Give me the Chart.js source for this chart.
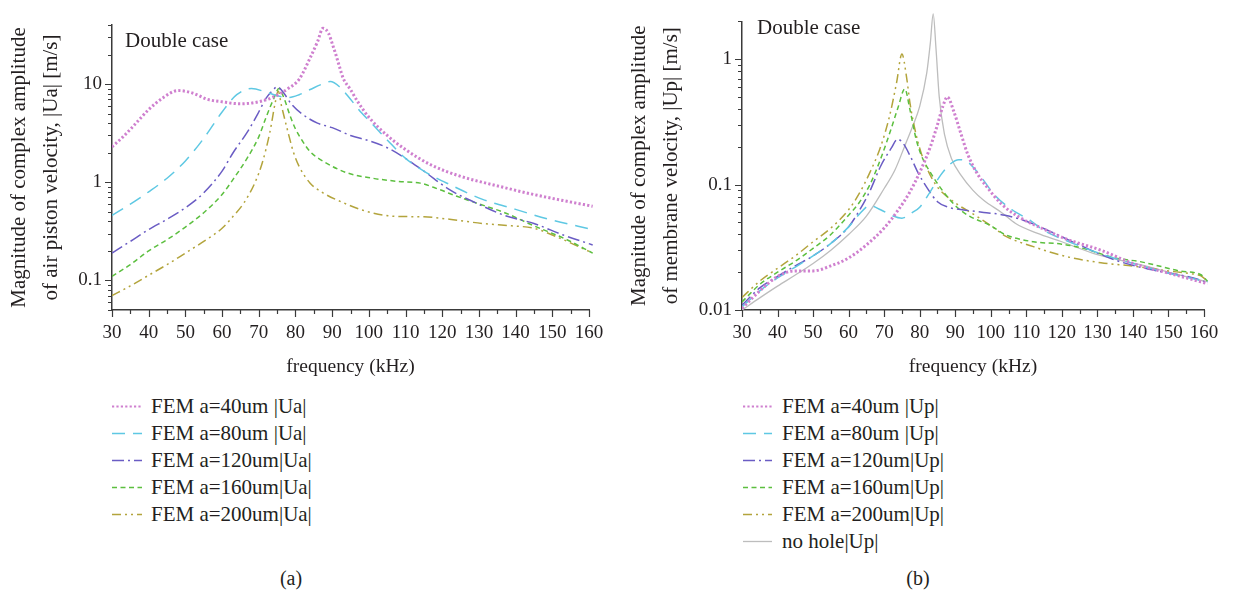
<!DOCTYPE html>
<html>
<head>
<meta charset="utf-8">
<title>Double case: |Ua| and |Up| against frequency</title>
<script src="https://cdn.jsdelivr.net/npm/chart.js@4.4.1/dist/chart.umd.min.js"></script>
<style>
  html, body { margin: 0; padding: 0; background: #fff; }
  body {
    width: 1234px; height: 595px; position: relative; overflow: hidden;
    font-family: "Liberation Serif", "Times New Roman", serif; color: #231f20;
  }
  .panel { position: absolute; top: 0; height: 390px; }
  #panelA { left: 0; width: 620px; }
  #panelB { left: 620px; width: 614px; }
  .note { position: absolute; font-size: 21px; line-height: 24px; white-space: nowrap; }
  .legend { position: absolute; top: 393px; font-size: 21px; }
  .legend-row { display: flex; align-items: center; height: 27px; white-space: nowrap; }
  .legend-row svg { flex: none; }
  .caption { position: absolute; top: 566px; width: 60px; text-align: center; font-size: 20px; line-height: 24px; }
</style>
</head>
<body>
  <div class="panel" id="panelA"><canvas id="chartUa"></canvas></div>
  <div class="panel" id="panelB"><canvas id="chartUp"></canvas></div>

  <div class="note" style="left:125px; top:28px;">Double case</div>
  <div class="note" style="left:757px; top:15px;">Double case</div>

  <div class="legend" id="legendUa" style="left:112px;"></div>
  <div class="legend" id="legendUp" style="left:743px;"></div>

  <div class="caption" style="left:261px;">(a)</div>
  <div class="caption" style="left:888px;">(b)</div>

<script>
'use strict';

// ---- (a) air piston velocity |Ua|, [frequency kHz, m/s] ----
const ua40 = [[30, 2.3], [33, 2.9], [36, 3.8], [40, 5.5], [44, 7.3], [48, 8.6], [52, 8.1], [56, 7.0],
  [60, 6.6], [65, 6.3], [70, 6.6], [74, 7.4], [78, 9.0], [81, 11.2], [84, 18.5], [86, 27], [87.5, 37],
  [89, 33], [90, 26], [91, 20], [92, 15], [93, 11.5], [95, 8.8], [97, 6.6], [100, 4.6], [105, 3.0],
  [110, 2.15], [117, 1.5], [125, 1.15], [135, 0.92], [145, 0.75], [154, 0.64], [161, 0.57]];
const ua80 = [[30, 0.46], [35, 0.6], [40, 0.8], [45, 1.1], [50, 1.65], [55, 2.8], [60, 5.2], [64, 7.8],
  [68, 9.0], [72, 8.3], [75, 7.6], [78, 7.3], [81, 7.8], [84, 8.8], [87, 9.9], [89.5, 10.6], [92, 9.4],
  [95, 7.0], [98, 5.1], [101, 3.9], [105, 2.7], [110, 1.75], [115, 1.3], [122, 0.95], [131, 0.67],
  [140, 0.53], [149, 0.42], [161, 0.33]];
const ua120 = [[30, 0.19], [35, 0.25], [40, 0.33], [45, 0.42], [50, 0.55], [55, 0.78], [60, 1.3],
  [63, 2.0], [67, 3.3], [70, 5.2], [72, 7.2], [74, 8.8], [75, 9.4], [76.5, 8.4], [79, 6.2], [82, 4.9],
  [86, 4.0], [90, 3.6], [95, 3.0], [100, 2.65], [105, 2.25], [110, 1.75], [115, 1.3], [122, 0.84],
  [129, 0.62], [137, 0.46], [145, 0.38], [153, 0.29], [161, 0.23]];
const ua160 = [[30, 0.11], [35, 0.145], [40, 0.2], [45, 0.26], [50, 0.35], [55, 0.49], [60, 0.75],
  [63, 1.07], [67, 1.8], [70, 2.9], [72, 4.6], [74, 7.0], [75.5, 9.0], [77, 7.0], [78.5, 4.8], [80, 3.5],
  [82, 2.6], [84, 2.05], [88, 1.6], [94, 1.25], [101, 1.1], [108, 1.02], [114, 0.98], [119, 0.85],
  [124, 0.72], [129, 0.62], [137, 0.49], [145, 0.36], [154, 0.26], [161, 0.19]];
const ua200 = [[30, 0.07], [35, 0.088], [40, 0.113], [45, 0.145], [50, 0.19], [55, 0.25], [60, 0.34],
  [63, 0.45], [66, 0.62], [69, 1.0], [71, 1.6], [73, 3.2], [74.5, 6.5], [75.3, 8.5], [76.2, 6.0],
  [77.5, 3.8], [79.5, 2.0], [81, 1.45], [84, 0.98], [87.5, 0.78], [93, 0.62], [99, 0.51], [107, 0.45],
  [115, 0.445], [122, 0.42], [131, 0.38], [139, 0.36], [145, 0.34], [152, 0.27], [161, 0.19]];

// ---- (b) membrane velocity |Up| ----
const up40 = [[30, 0.0103], [35, 0.0142], [40, 0.0185], [45, 0.0205], [50, 0.0205], [55, 0.0225],
  [60, 0.026], [65, 0.033], [70, 0.045], [74, 0.063], [77, 0.085], [80, 0.125], [83, 0.2], [85, 0.3],
  [86.5, 0.42], [87.8, 0.5], [89.5, 0.39], [91.5, 0.26], [93.5, 0.175], [96, 0.125], [99, 0.095],
  [103, 0.07], [108, 0.055], [115, 0.044], [121, 0.037], [131, 0.03], [140, 0.0235], [150, 0.0197],
  [161, 0.0162]];
const up80 = [[30, 0.0106], [35, 0.0142], [40, 0.018], [45, 0.022], [50, 0.027], [55, 0.034],
  [60, 0.046], [63, 0.058], [66, 0.068], [69, 0.063], [72, 0.057], [75, 0.054], [78, 0.06], [80, 0.066],
  [83, 0.088], [86, 0.12], [88.5, 0.145], [91, 0.158], [93, 0.155], [95, 0.138], [98, 0.108],
  [101, 0.083], [106, 0.063], [111, 0.052], [115, 0.043], [121, 0.036], [131, 0.028], [140, 0.0235],
  [150, 0.0197], [161, 0.0168]];
const up120 = [[30, 0.0109], [35, 0.015], [40, 0.0185], [45, 0.0225], [50, 0.027], [55, 0.034],
  [60, 0.046], [63, 0.062], [66, 0.089], [69, 0.14], [72, 0.195], [73.8, 0.23], [75.5, 0.21],
  [77.5, 0.165], [79.5, 0.125], [82, 0.095], [85, 0.073], [88, 0.066], [92, 0.063], [98, 0.06],
  [104, 0.057], [110, 0.051], [117, 0.042], [126, 0.032], [135, 0.025], [145, 0.021], [157, 0.018],
  [161, 0.0165]];
const up160 = [[30, 0.0116], [35, 0.016], [40, 0.02], [45, 0.0245], [50, 0.031], [55, 0.04],
  [60, 0.057], [63, 0.072], [66, 0.1], [69, 0.16], [72, 0.28], [74, 0.42], [75.8, 0.58], [77.3, 0.39],
  [79, 0.23], [80.5, 0.17], [83, 0.125], [86.5, 0.089], [90.5, 0.066], [94, 0.056], [100, 0.047],
  [104, 0.04], [112, 0.035], [120, 0.0335], [126, 0.031], [135, 0.026], [142, 0.0243], [148, 0.0222],
  [153, 0.0205], [159, 0.0192], [161, 0.017]];
const up200 = [[30, 0.0126], [35, 0.017], [40, 0.0215], [45, 0.027], [50, 0.035], [55, 0.045],
  [60, 0.063], [63, 0.085], [66, 0.125], [69, 0.2], [71.5, 0.35], [73.5, 0.65], [75, 1.1], [76.3, 0.72],
  [77.3, 0.44], [79, 0.25], [81, 0.16], [84.5, 0.1], [89, 0.075], [96, 0.056], [101, 0.045],
  [104, 0.039], [112, 0.032], [121, 0.0268], [131, 0.0238], [140, 0.0224], [150, 0.0205],
  [156, 0.0195], [159, 0.0188], [161, 0.017]];
const upNoHole = [[30, 0.01], [35, 0.0125], [40, 0.0155], [45, 0.019], [50, 0.0235], [55, 0.03],
  [60, 0.04], [65, 0.056], [70, 0.093], [73, 0.13], [76, 0.21], [78, 0.29], [80, 0.42], [82, 0.78],
  [83, 1.35], [83.8, 2.3], [84.6, 1.2], [85.5, 0.5], [87, 0.25], [89, 0.16], [91.5, 0.12], [95, 0.09],
  [98, 0.075], [103, 0.06], [107, 0.049], [113, 0.041], [120, 0.035], [130, 0.0276], [142, 0.023],
  [151, 0.0197], [161, 0.0168]];

const labelsUa = ['FEM a=40um |Ua|', 'FEM a=80um |Ua|', 'FEM a=120um|Ua|', 'FEM a=160um|Ua|', 'FEM a=200um|Ua|'];
const labelsUp = ['FEM a=40um |Up|', 'FEM a=80um |Up|', 'FEM a=120um|Up|', 'FEM a=160um|Up|', 'FEM a=200um|Up|', 'no hole|Up|'];
const titleUa = ['Magnitude of complex amplitude', 'of air piston velocity, |Ua| [m/s]'];
const titleUp = ['Magnitude of complex amplitude', 'of membrane velocity, |Up| [m/s]'];

const FONT = '"Liberation Serif", "Times New Roman", serif';
const INK = '#231f20';
const AXIS = '#3a3a3a';

// one style per series, same order for both panels
const lineStyles = [
  { color: '#cf80cf', width: 3, dash: [2.2, 2.2] },
  { color: '#5ec8e3', width: 1.5, dash: [13, 8] },
  { color: '#6a5cc4', width: 1.5, dash: [12, 4, 2, 4] },
  { color: '#5cbf3f', width: 1.5, dash: [5, 3.5] },
  { color: '#b3a43c', width: 1.5, dash: [9, 4, 2, 4, 2, 4] },
  { color: '#bdbdbd', width: 1.3, dash: [] }
];

const isDecade = (v) => {
  const e = Math.log10(v);
  return Math.abs(e - Math.round(e)) < 1e-6;
};

const isWholeMantissa = (v) => {
  const m = v / Math.pow(10, Math.floor(Math.log10(v) + 1e-9));
  return Math.abs(m - Math.round(m)) < 1e-6;
};

// short outward tick marks, longer on labelled values
const tickMarks = {
  id: 'tickMarks',
  afterDraw(chart) {
    const { ctx, chartArea, scales } = chart;
    ctx.save();
    ctx.strokeStyle = AXIS;
    ctx.lineWidth = 1.2;
    ctx.beginPath();
    scales.x.ticks.forEach((t) => {
      if (t.value % 5 !== 0) return;
      const px = Math.round(scales.x.getPixelForValue(t.value)) + 0.5;
      const len = t.value % 10 === 0 ? 7 : 4;
      ctx.moveTo(px, chartArea.bottom);
      ctx.lineTo(px, chartArea.bottom + len);
    });
    scales.y.ticks.forEach((t) => {
      if (!isWholeMantissa(t.value)) return;
      const py = Math.round(scales.y.getPixelForValue(t.value)) + 0.5;
      const len = isDecade(t.value) ? 7 : 4;
      ctx.moveTo(chartArea.left, py);
      ctx.lineTo(chartArea.left - len, py);
    });
    ctx.stroke();
    ctx.restore();
  }
};

class DoubleCaseFigure {
  constructor() {
    this.init();
  }

  init() {
    this.charts = [];
    this.initCharts();
    this.buildLegends();
  }

  makeDatasets(series, labels, peakClip) {
    return series.map((pts, i) => ({
      label: labels[i],
      data: pts.map(([x, y]) => ({ x, y })),
      borderColor: lineStyles[i].color,
      borderWidth: lineStyles[i].width,
      borderDash: lineStyles[i].dash,
      clip: { left: 0, top: i === 5 ? peakClip : 0, right: 6, bottom: 0 }
    }));
  }

  makeOptions(cfg) {
    return {
      responsive: true,
      maintainAspectRatio: false,
      animation: false,
      layout: { padding: { left: 0, top: cfg.top, right: cfg.right, bottom: 0 } },
      plugins: { legend: { display: false }, tooltip: { enabled: false } },
      elements: {
        point: { radius: 0 },
        line: { cubicInterpolationMode: 'monotone', fill: false }
      },
      scales: {
        x: {
          type: 'linear',
          min: 30,
          max: 160,
          border: { display: true, color: AXIS, width: 1.5 },
          grid: { display: true, drawOnChartArea: false, drawTicks: false },
          ticks: {
            stepSize: 5,
            autoSkip: false,
            maxRotation: 0,
            includeBounds: false,
            padding: 12,
            color: INK,
            font: { family: FONT, size: 19 },
            callback: (v) => (v % 10 === 0 ? String(v) : '')
          },
          title: {
            display: true,
            text: 'frequency (kHz)',
            color: INK,
            font: { family: FONT, size: 19.5 },
            padding: { top: 0, bottom: 11 }
          },
          afterFit: (s) => { s.height = 80; }
        },
        y: {
          type: 'logarithmic',
          min: cfg.yMin,
          max: cfg.yMax,
          border: { display: true, color: AXIS, width: 1.5 },
          grid: { display: true, drawOnChartArea: false, drawTicks: false },
          ticks: {
            autoSkip: false,
            padding: 10,
            color: INK,
            font: { family: FONT, size: 19 },
            callback: (v) => {
              if (!isDecade(v)) return '';
              const n = Math.round(Math.log10(v));
              return n >= 0 ? String(Math.pow(10, n)) : Math.pow(10, n).toFixed(-n);
            }
          },
          title: {
            display: true,
            text: cfg.yTitle,
            color: INK,
            font: { family: FONT, size: 21, lineHeight: 1.5 },
            padding: { top: 4, bottom: 0 }
          },
          afterFit: (s) => { s.width = cfg.yWidth; }
        }
      }
    };
  }

  initCharts() {
    const ctxA = document.getElementById('chartUa');
    if (ctxA) {
      this.charts.push(new Chart(ctxA, {
        type: 'line',
        data: { datasets: this.makeDatasets([ua40, ua80, ua120, ua160, ua200], labelsUa, 0) },
        options: this.makeOptions({ yMin: 0.05, yMax: 40, yTitle: titleUa, yWidth: 112, top: 25, right: 31 }),
        plugins: [tickMarks]
      }));
    }

    const ctxB = document.getElementById('chartUp');
    if (ctxB) {
      this.charts.push(new Chart(ctxB, {
        type: 'line',
        data: { datasets: this.makeDatasets([up40, up80, up120, up160, up200, upNoHole], labelsUp, 12) },
        options: this.makeOptions({ yMin: 0.01, yMax: 2, yTitle: titleUp, yWidth: 122, top: 12, right: 30 }),
        plugins: [tickMarks]
      }));
    }
  }

  buildLegends() {
    const targets = [['legendUa', 30, 9], ['legendUp', 29, 10]];
    this.charts.forEach((chart, k) => {
      const [id, lineLen, gap] = targets[k];
      const box = document.getElementById(id);
      chart.data.datasets.forEach((ds) => {
        const row = document.createElement('div');
        row.className = 'legend-row';
        const dash = (ds.borderDash || []).join(' ');
        row.innerHTML =
          '<svg width="' + lineLen + '" height="27"><line x1="0" y1="13.5" x2="' + lineLen +
          '" y2="13.5" stroke="' + ds.borderColor + '" stroke-width="' + Math.min(ds.borderWidth, 2.2) +
          '" stroke-dasharray="' + dash + '"/></svg><span></span>';
        const text = row.querySelector('span');
        text.style.marginLeft = gap + 'px';
        text.textContent = ds.label;
        box.appendChild(row);
      });
    });
  }
}

// Initialize when document is ready
document.addEventListener('DOMContentLoaded', () => {
  new DoubleCaseFigure();
});
</script>
</body>
</html>
